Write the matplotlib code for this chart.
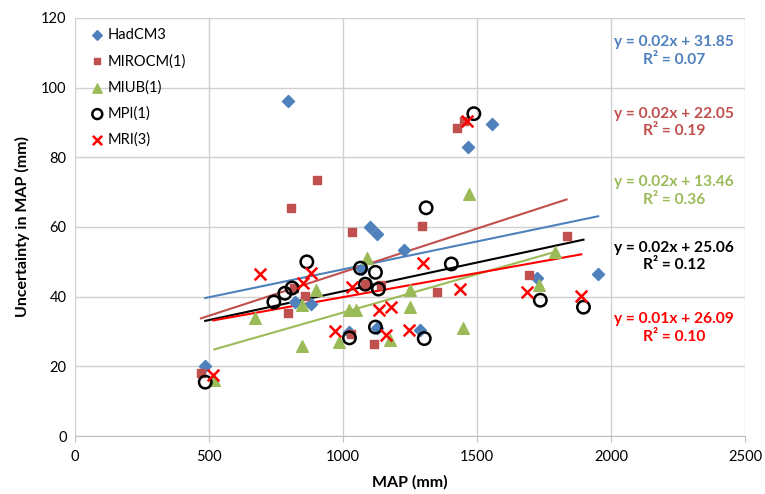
import numpy as np
import matplotlib
matplotlib.use("Agg")
import matplotlib.pyplot as plt

plt.rcParams['font.family'] = ['Lato', 'DejaVu Sans']

# Data (MAP in mm, uncertainty in mm)
hadcm3_x = [486, 795, 820, 880, 1024, 1069, 1102, 1128, 1128, 1229, 1288, 1466, 1556, 1723, 1952]
hadcm3_y = [20, 96, 38.5, 38, 30, 48, 60, 58, 31, 53.5, 30.5, 83, 89.5, 45.5, 46.5]

miroc_x = [470, 794, 805, 817, 860, 902, 1030, 1033, 1083, 1117, 1142, 1293, 1352, 1426, 1451, 1692, 1834]
miroc_y = [18, 35.3, 65.5, 42.5, 40.2, 73.5, 29.3, 58.5, 43.6, 26.4, 43.3, 60.3, 41.3, 88.5, 90.5, 46.2, 57.4]

miub_x = [520, 672, 847, 847, 898, 984, 1021, 1050, 1088, 1177, 1251, 1251, 1448, 1469, 1730, 1789]
miub_y = [16, 34, 37.6, 26, 42, 27, 36.2, 36.2, 51, 27.5, 42, 37, 31, 69.5, 43.4, 52.8]

mpi_x = [486, 742, 783, 810, 865, 1024, 1065, 1083, 1121, 1121, 1132, 1303, 1310, 1404, 1488, 1736, 1897]
mpi_y = [15.5, 38.5, 41, 42.5, 50, 28.2, 48.2, 43.6, 47, 31.3, 42.2, 28, 65.5, 49.4, 92.5, 39, 37]

mri_x = [516, 690, 850, 880, 969, 1032, 1136, 1162, 1180, 1247, 1299, 1437, 1463, 1686, 1889]
mri_y = [17.5, 46.5, 44, 46.8, 30.2, 42.8, 36.2, 29, 37, 30.5, 49.6, 42.2, 90.5, 41.4, 40.2]

# trend line coefficients (slope, intercept from labels)
fit_slopes = [0.016, 0.025, 0.022, 0.0165, 0.0138]
fit_intercepts = [31.85, 22.05, 13.46, 25.06, 26.09]
fit_labels = ['y = 0.02x + 31.85\nR² = 0.07',
              'y = 0.02x + 22.05\nR² = 0.19',
              'y = 0.02x + 13.46\nR² = 0.36',
              'y = 0.02x + 25.06\nR² = 0.12',
              'y = 0.01x + 26.09\nR² = 0.10']
label_y = [110.5, 90, 70.3, 51.5, 31]

names = ['HadCM3', 'MIROCM(1)', 'MIUB(1)', 'MPI(1)', 'MRI(3)']
colors = ['#4F81BD', '#C0504D', '#9BBB59', '#000000', '#FF0000']
xs = [hadcm3_x, miroc_x, miub_x, mpi_x, mri_x]
ys = [hadcm3_y, miroc_y, miub_y, mpi_y, mri_y]

fig = plt.figure(figsize=(7.65, 4.94), dpi=100)
ax = fig.add_axes([0.098, 0.117, 0.876, 0.847])

# markers
ax.scatter(hadcm3_x, hadcm3_y, marker='D', s=38, color=colors[0], label=names[0], zorder=3)
ax.scatter(miroc_x, miroc_y, marker='s', s=38, color=colors[1], label=names[1], zorder=3)
ax.scatter(miub_x, miub_y, marker='^', s=70, color=colors[2], label=names[2], zorder=3)
ax.scatter(mpi_x, mpi_y, marker='o', s=80, facecolors='none', edgecolors='black',
           linewidths=1.8, label=names[3], zorder=4)
ax.scatter(mri_x, mri_y, marker='x', s=70, color=colors[4], linewidths=1.8,
           label=names[4], zorder=4)

# linear trend lines
for i in range(5):
    xx = np.array([min(xs[i]), max(xs[i])])
    ax.plot(xx, fit_slopes[i] * xx + fit_intercepts[i], color=colors[i], lw=1.5, zorder=2)

# equation labels on the right
for i in range(5):
    ax.text(2235, label_y[i], fit_labels[i], color=colors[i], fontsize=11.2,
            fontweight='bold', ha='center', va='center', linespacing=1.3)

ax.set_xlim(0, 2500)
ax.set_ylim(0, 120)
ax.set_xticks(range(0, 2501, 500))
ax.set_yticks(range(0, 121, 20))
ax.grid(True, color='#D0D0D0', lw=1)
ax.set_axisbelow(True)
for s in ['top', 'right', 'left']:
    ax.spines[s].set_visible(False)
ax.spines['bottom'].set_color('#C0C0C0')
ax.tick_params(axis='both', labelsize=10.5, length=0, pad=6)
ax.tick_params(axis='x', length=4, color='#C0C0C0', direction='out')

ax.set_xlabel('MAP (mm)', fontsize=11.5, fontweight='bold', labelpad=8)
ax.set_ylabel('Uncertainty in MAP (mm)', fontsize=11.5, fontweight='bold', labelpad=8)

ax.legend(loc='upper left', frameon=False, fontsize=10.5, handletextpad=0.1,
          labelspacing=0.82, borderaxespad=0.3, handlelength=1.2,
          markerscale=0.8, bbox_to_anchor=(0.005, 1.0))

fig.savefig('out.png', dpi=100)
